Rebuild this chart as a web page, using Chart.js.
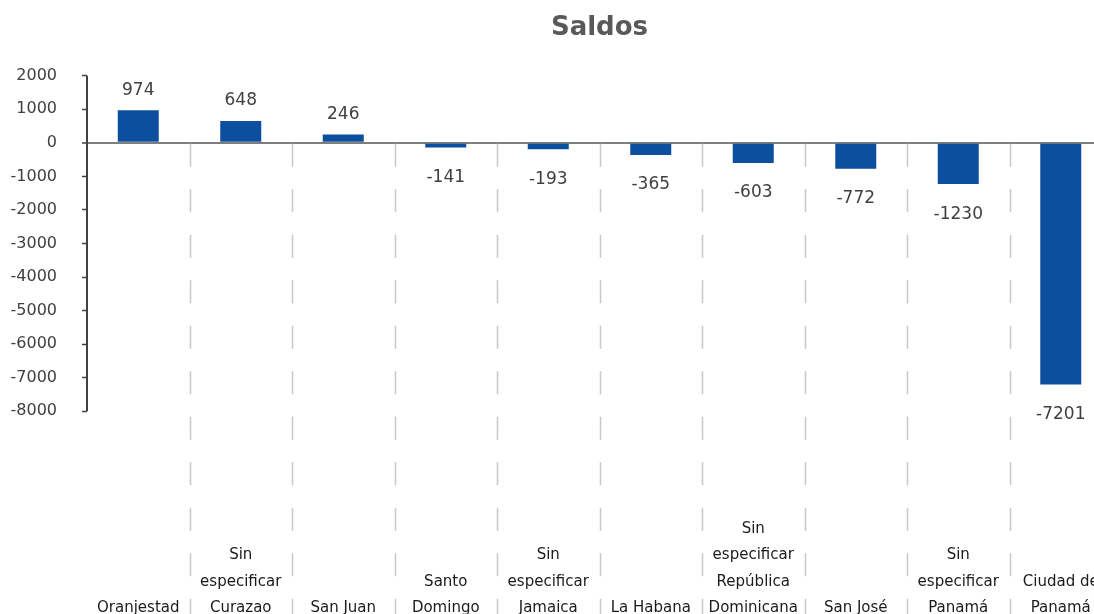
<!DOCTYPE html>
<html>
<head>
<meta charset="utf-8">
<script src="https://cdn.jsdelivr.net/npm/chart.js@4/dist/chart.umd.min.js"></script>
<style>
  html, body { margin: 0; padding: 0; background: #fff; overflow: hidden; }
  #chart { display: block; width: 1112px; height: 625px; }
</style>
</head>
<body>
<canvas id="chart" width="1112" height="625"></canvas>
<script>
// categories (each one split in the lines shown under the bars)
const categories = [
    ['Oranjestad'],
    ['Sin', 'especificar', 'Curazao'],
    ['San Juan'],
    ['Santo', 'Domingo'],
    ['Sin', 'especificar', 'Jamaica'],
    ['La Habana'],
    ['Sin', 'especificar', 'República', 'Dominicana'],
    ['San José'],
    ['Sin', 'especificar', 'Panamá'],
    ['Ciudad de', 'Panamá']
];
const saldos = [974, 648, 246, -141, -193, -365, -603, -772, -1230, -7201];
const yTicks = [2000, 1000, 0, -1000, -2000, -3000, -4000, -5000, -6000, -7000, -8000];

const FONT = "'DejaVu Sans', Verdana, sans-serif";
const maxLines = Math.max(...categories.map(c => c.length));

// dashed separators, axis line and value labels
const extras = {
    id: 'extras',
    beforeDatasetsDraw(chart) {
        const ctx = chart.ctx;
        const x = chart.scales.x, y = chart.scales.y;
        const zero = y.getPixelForValue(0);
        ctx.save();
        ctx.strokeStyle = '#c8c8c8';
        ctx.lineWidth = 1.5;
        ctx.setLineDash([23, 22.5]);
        for (let i = 1; i < categories.length; i++) {
            const px = Math.round((x.getPixelForValue(i - 1) + x.getPixelForValue(i)) / 2) + 0.5;
            ctx.beginPath();
            ctx.moveTo(px, zero + 1);
            ctx.lineTo(px, chart.height);
            ctx.stroke();
        }
        ctx.restore();
    },
    afterDatasetsDraw(chart) {
        const ctx = chart.ctx;
        const y = chart.scales.y;
        const left = chart.chartArea.left;
        ctx.save();
        // axis line only over the labelled range
        ctx.strokeStyle = '#404040';
        ctx.lineWidth = 2;
        ctx.beginPath();
        ctx.moveTo(left, y.getPixelForValue(yTicks[0]));
        ctx.lineTo(left, y.getPixelForValue(yTicks[yTicks.length - 1]));
        ctx.stroke();

        ctx.font = '17px ' + FONT;
        ctx.fillStyle = '#404040';
        ctx.textAlign = 'center';
        ctx.textBaseline = 'middle';
        const meta = chart.getDatasetMeta(0);
        meta.data.forEach((bar, i) => {
            const v = saldos[i];
            const ty = v >= 0 ? bar.y - 20 : bar.y + 30;
            ctx.fillText(String(v), bar.x, ty);
        });
        ctx.restore();
    }
};

new Chart(document.getElementById('chart'), {
    type: 'bar',
    data: {
        labels: categories,
        datasets: [{
            label: 'Saldos',
            data: saldos,
            backgroundColor: '#0b4f9e',
            borderWidth: 0,
            barPercentage: 0.4,
            categoryPercentage: 1
        }]
    },
    options: {
        responsive: false,
        animation: false,
        devicePixelRatio: 1,
        layout: { padding: 0 },
        plugins: {
            legend: { display: false },
            tooltip: { enabled: false },
            title: {
                display: true,
                text: 'Saldos',
                fullSize: false,
                color: '#595959',
                font: { family: FONT, size: 26, weight: 'bold', lineHeight: 1.2 },
                padding: { top: 13, bottom: 31.5 }
            }
        },
        scales: {
            x: {
                grid: { display: false, drawTicks: false },
                border: { display: false },
                ticks: {
                    autoSkip: false,
                    maxRotation: 0,
                    padding: 3.5,
                    color: '#1a1a1a',
                    font: { family: FONT, size: 15, lineHeight: 1.7667 },
                    // pad with blank lines so every label sits on the bottom
                    callback: (val, i) => {
                        const lines = categories[i];
                        return Array(maxLines - lines.length).fill('').concat(lines);
                    }
                }
            },
            y: {
                min: -11000,
                max: 2000,
                afterBuildTicks: (scale) => {
                    scale.ticks = yTicks.map(v => ({ value: v }));
                },
                afterFit: (scale) => { scale.width = 87; },
                border: { display: false },
                grid: {
                    drawOnChartArea: true,
                    drawTicks: true,
                    tickLength: 5,
                    tickColor: '#404040',
                    tickWidth: 1.5,
                    color: (c) => c.tick && c.tick.value === 0 ? '#7f7f7f' : 'rgba(0,0,0,0)',
                    lineWidth: (c) => c.tick && c.tick.value === 0 ? 2 : 1
                },
                ticks: {
                    padding: 25,
                    color: '#404040',
                    font: { family: FONT, size: 16 },
                    callback: (v) => String(v)
                }
            }
        }
    },
    plugins: [extras]
});
</script>
</body>
</html>
